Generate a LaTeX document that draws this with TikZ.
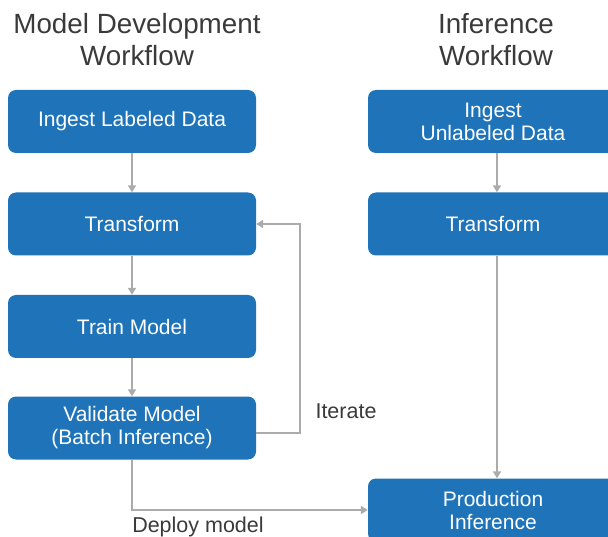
\documentclass[tikz,border=0pt]{standalone}
\usepackage{fontspec}
\setmainfont{Liberation Sans}
\usetikzlibrary{arrows.meta}
\definecolor{boxblue}{HTML}{1E73B9}
\definecolor{flowgray}{HTML}{ABABAB}
\definecolor{titlegray}{HTML}{3A3A3A}
\begin{document}
\begin{tikzpicture}[x=1pt,y=-1pt,
		stepbox/.style={fill=boxblue, text=white, rounded corners=8pt, minimum height=63pt, align=center, font=\fontsize{21}{23}\selectfont},
		leftbox/.style={stepbox, minimum width=248pt},
		rightbox/.style={stepbox, minimum width=250pt},
		flow/.style={-{Triangle[length=7pt,width=8pt]}, line width=2.6pt, flowgray},
		heading/.style={text=titlegray, align=center, font=\fontsize{27.8}{32}\selectfont},
		note/.style={text=titlegray, font=\fontsize{21.5}{24}\selectfont}]
		\useasboundingbox (0,0) rectangle (608,537);
		% titles
		\node [heading] (devtitle) at (137,40) {Model Development\\Workflow};
		\node [heading] (inftitle) at (496,40) {Inference\\Workflow};
		% model development
		\node [leftbox] (ingest) at (132,121.5) {Ingest Labeled Data};
		\node [leftbox] (trans) at (132,224) {Transform};
		\node [leftbox] (train) at (132,326.5) {Train Model};
		\node [leftbox] (valid) at (132,428) {Validate Model\\(Batch Inference)};
		% inference
		\node [rightbox] (ingestu) at (493,121.5) {Ingest\\Unlabeled Data};
		\node [rightbox] (transu) at (493,224) {Transform};
		\node [rightbox] (prod) at (493,510) {Production\\Inference};
		% connectors
		\draw [flow] (ingest)--(trans);
		\draw [flow] (trans)--(train);
		\draw [flow] (train)--(valid);
		\draw [flow] (ingestu.south -| 497,0)--(transu.north -| 497,0);
		\draw [flow] (transu.south -| 497,0)--(prod.north -| 497,0);
		\coordinate (iter) at (300,433);
		\draw [flow] (valid.east |- iter)--(iter) |- (trans.east);
		\draw [flow] (valid.south) |- (prod.west);
		% labels
		\node [note] (iterlabel) at (346,411) {Iterate};
		\node [note] (deploylabel) at (198,527) {Deploy model};
	  \end{tikzpicture}
\end{document}
